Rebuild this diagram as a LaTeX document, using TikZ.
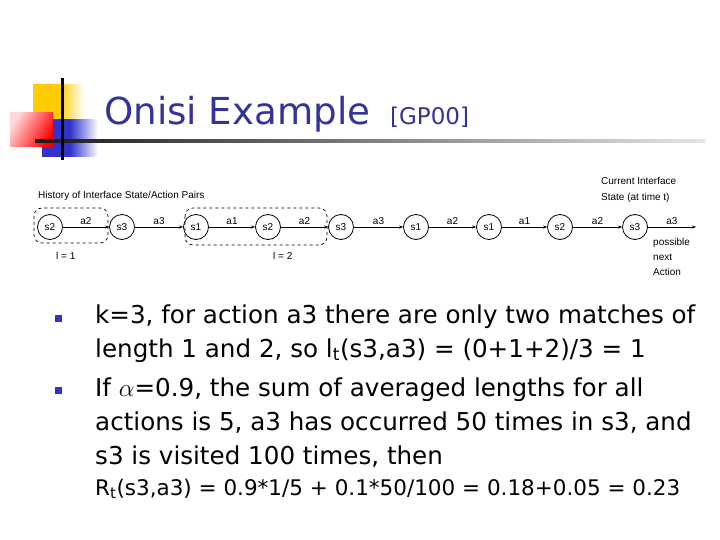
\documentclass[tikz,border=0pt]{standalone}
\usepackage{fontspec}
\setmainfont{DejaVu Sans}
\newfontfamily\diafont{Liberation Sans}
\usetikzlibrary{arrows.meta}
\definecolor{titleblue}{HTML}{333399}
\definecolor{bulletblue}{HTML}{3333CC}
\definecolor{gold}{HTML}{FFCC00}
\begin{document}
\begin{tikzpicture}[x=1pt,y=-1pt,
  st/.style={circle,draw,line width=0.8pt,minimum size=25pt,inner sep=0pt,font=\diafont\fontsize{10}{10}\selectfont},
  act/.style={-{Stealth[length=4pt,width=3pt]},line width=0.7pt},
  albl/.style={font=\diafont\fontsize{10}{10}\selectfont,inner sep=1pt,above=1pt},
  dia/.style={font=\diafont\fontsize{10}{12}\selectfont,inner sep=0pt,anchor=base west},
  body/.style={font=\fontsize{24.6}{34}\selectfont,inner sep=0pt,anchor=base west},
  bul/.style={fill=bulletblue,minimum size=7pt,inner sep=0pt}]
\useasboundingbox (0,0) rectangle (720,540);
% decoration
\fill[left color=gold,right color=white,middle color=gold] (33,85) rectangle (84,120);
\fill[left color=bulletblue,right color=white,middle color=bulletblue] (42,120) rectangle (98,157);
\fill[left color=red!15,right color=red,shading angle=60] (10,113) rectangle (53,147);
\shade[left color=black!90,right color=black!10] (35,140) rectangle (705,142.5);
\fill[black] (61,78) rectangle (63.5,160);
% title
\node[font=\fontsize{37.2}{38}\selectfont,text=titleblue,inner sep=0pt,anchor=base west] (title) at (104,125) {Onisi Example};
\node[font=\fontsize{23}{23}\selectfont,text=titleblue,inner sep=0pt,anchor=base west] (ref) at (390,125) {[GP00]};
% diagram
\node[dia] (hist) at (38,199) {History of Interface State/Action Pairs};
\node[dia] (cur1) at (601,185) {Current Interface};
\node[dia] (cur2) at (601,201) {State (at time t)};
\draw[dashed,line width=0.7pt,rounded corners=8pt] (34,208) rectangle (108,243);
\draw[dashed,line width=0.7pt,rounded corners=8pt] (185,208) rectangle (327,245);
\node[st] (n1) at (50,227) {s2};
\node[st] (n2) at (122,227) {s3};
\node[st] (n3) at (196,227) {s1};
\node[st] (n4) at (268,227) {s2};
\node[st] (n5) at (341,227) {s3};
\node[st] (n6) at (416,227) {s1};
\node[st] (n7) at (489,227) {s1};
\node[st] (n8) at (560,227) {s2};
\node[st] (n9) at (635,227) {s3};
\coordinate (end) at (696,227);
\draw[act] (n1) -- node[albl] {a2} (n2);
\draw[act] (n2) -- node[albl] {a3} (n3);
\draw[act] (n3) -- node[albl] {a1} (n4);
\draw[act] (n4) -- node[albl] {a2} (n5);
\draw[act] (n5) -- node[albl] {a3} (n6);
\draw[act] (n6) -- node[albl] {a2} (n7);
\draw[act] (n7) -- node[albl] {a1} (n8);
\draw[act] (n8) -- node[albl] {a2} (n9);
\draw[act] (n9) -- node[albl] {a3} (end);
\node[dia] (pos1) at (653,245) {possible};
\node[dia] (pos2) at (653,260) {next};
\node[dia] (pos3) at (653,275) {Action};
\node[dia] (l1) at (56,259) {l = 1};
\node[dia] (l2) at (273,259) {l = 2};
% bullets
\node[bul] (b1) at (58,318) {};
\node[bul] (b2) at (58,390) {};
\node[body] (t1) at (95,323) {k=3, for action a3 there are only two matches of};
\node[body] (t2) at (95,357) {length 1 and 2, so l\textsubscript{t}(s3,a3) = (0+1+2)/3 = 1};
\node[body] (t3) at (95,396) {If $\alpha$=0.9, the sum of averaged lengths for all};
\node[body] (t4) at (95,430) {actions is 5, a3 has occurred 50 times in s3, and};
\node[body] (t5) at (95,464) {s3 is visited 100 times, then};
\node[body,font=\fontsize{21.5}{22}\selectfont] (t6) at (95,495) {R\textsubscript{t}(s3,a3) = 0.9*1/5 + 0.1*50/100 = 0.18+0.05 = 0.23};
\end{tikzpicture}
\end{document}
